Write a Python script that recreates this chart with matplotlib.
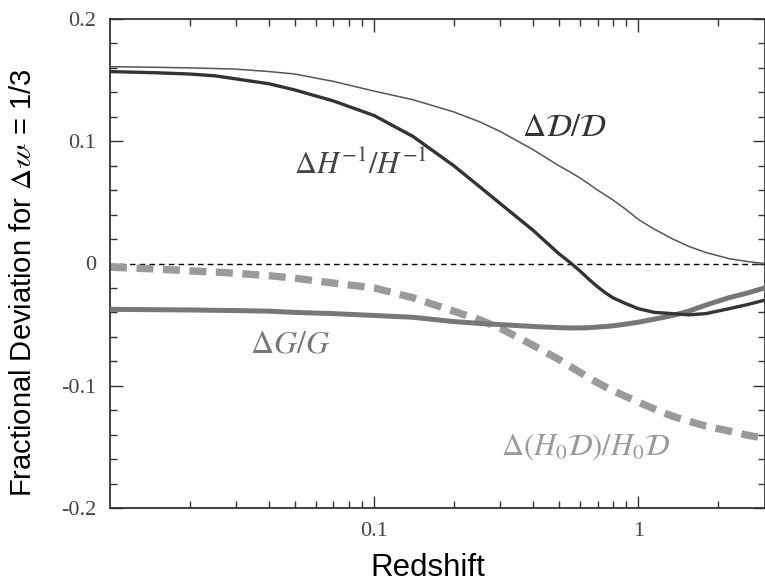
import matplotlib
matplotlib.use("Agg")
import matplotlib.pyplot as plt
from matplotlib.ticker import LogLocator, MultipleLocator, FixedLocator, FixedFormatter, NullFormatter

plt.rcParams["mathtext.fontset"] = "stix"

# Redshift sample points
redshift = [0.01, 0.015, 0.02, 0.025, 0.03, 0.04, 0.05, 0.07, 0.1, 0.14, 0.2, 0.25,
            0.3, 0.4, 0.5, 0.55, 0.6, 0.65, 0.7, 0.75, 0.8, 0.9, 1.0, 1.15, 1.35,
            1.55, 1.8, 2.2, 2.6, 3.0]

# Fractional deviations of each quantity
dD_over_D = [0.161, 0.1605, 0.160, 0.1595, 0.159, 0.157, 0.155, 0.149, 0.141, 0.134, 0.124, 0.116,
             0.108, 0.093, 0.080, 0.075, 0.070, 0.065, 0.060, 0.056, 0.052, 0.044, 0.036, 0.028, 0.020,
             0.014, 0.009, 0.004, 0.0015, 0.0]
dHinv_over_Hinv = [0.157, 0.156, 0.155, 0.1535, 0.151, 0.147, 0.142, 0.133, 0.121, 0.104, 0.080, 0.063,
                   0.049, 0.027, 0.008, 0.001, -0.006, -0.013, -0.019, -0.024, -0.028, -0.033, -0.037,
                   -0.040, -0.041, -0.042, -0.041, -0.037, -0.0335, -0.030]
dG_over_G = [-0.0375, -0.0378, -0.038, -0.0383, -0.0385, -0.039, -0.040, -0.041, -0.0425, -0.044,
             -0.0475, -0.049, -0.050, -0.0515, -0.0525, -0.0527, -0.0527, -0.0525, -0.052, -0.0515,
             -0.051, -0.0495, -0.048, -0.0455, -0.0425, -0.039, -0.034, -0.028, -0.024, -0.020]
dH0D_over_H0D = [-0.003, -0.0045, -0.006, -0.007, -0.008, -0.010, -0.012, -0.016, -0.020, -0.028,
                 -0.039, -0.046, -0.053, -0.067, -0.0785, -0.084, -0.089, -0.0935, -0.0975, -0.101,
                 -0.104, -0.109, -0.1135, -0.119, -0.125, -0.129, -0.133, -0.137, -0.1405, -0.143]

y_ticks = [-0.2, -0.1, 0.0, 0.1, 0.2]
y_tick_labels = ["-0.2", "-0.1", "0", "0.1", "0.2"]
x_ticks = [0.1, 1.0]
x_tick_labels = ["0.1", "1"]

W, H = 765, 586
fig = plt.figure(figsize=(W / 100, H / 100), dpi=100)
ax = fig.add_axes([110 / W, (H - 508) / H, (764.5 - 110) / W, (508 - 19) / H])

ax.axhline(0, color="black", lw=1.0, dashes=(4, 3), zorder=1)
ax.plot(redshift, dH0D_over_H0D, color="#9a9a9a", lw=5.3, dashes=(2.3, 1.3), solid_capstyle="butt", zorder=2)
ax.plot(redshift, dG_over_G, color="#777777", lw=3.6, zorder=3)
ax.plot(redshift, dD_over_D, color="#555555", lw=1.1, zorder=4)
ax.plot(redshift, dHinv_over_Hinv, color="#333333", lw=2.4, zorder=5)

ax.set_xscale("log")
ax.set_xlim(0.01, 3.0)
ax.set_ylim(-0.2, 0.2)

ax.xaxis.set_major_locator(FixedLocator(x_ticks))
ax.xaxis.set_major_formatter(FixedFormatter(x_tick_labels))
ax.xaxis.set_minor_locator(LogLocator(base=10, subs=range(2, 10)))
ax.xaxis.set_minor_formatter(NullFormatter())
ax.yaxis.set_major_locator(FixedLocator(y_ticks))
ax.yaxis.set_major_formatter(FixedFormatter(y_tick_labels))
ax.yaxis.set_minor_locator(MultipleLocator(0.02))

ax.tick_params(which="both", direction="in", top=True, right=True, color="#333333", width=1.0)
ax.tick_params(which="major", length=9, pad=10)
ax.tick_params(which="minor", length=5)
for lab in ax.get_xticklabels() + ax.get_yticklabels():
    lab.set_family("Liberation Serif")
    lab.set_fontsize(16)
    lab.set_color("#444444")
for s in ax.spines.values():
    s.set_color("#333333")
    s.set_linewidth(1.3)

ax.set_xlabel("Redshift", family="Liberation Sans", fontsize=22.5)
ax.xaxis.set_label_coords((428 - 110) / 654.5, -0.093)
ax.set_ylabel(r"Fractional Deviation for $\Delta\mathscr{w}$ = 1/3", family="Liberation Sans", fontsize=21)
ax.yaxis.set_label_coords((37 - 110) / 654.5, (508 - 283) / 489)

ax.text(0.362, 0.104, r"$\Delta\mathcal{D}/\mathcal{D}$", fontsize=23, color="#333333", ha="left", va="baseline")
ax.text(0.0499, 0.073, r"$\Delta H^{-1}/H^{-1}$", fontsize=22, color="#444444", ha="left", va="baseline")
ax.text(0.0338, -0.073, r"$\Delta G/G$", fontsize=23, color="#777777", ha="left", va="baseline")
ax.text(1.32, -0.1566, r"$\Delta(H_0\mathcal{D})/H_0\mathcal{D}$", fontsize=22, color="#999999", ha="right", va="baseline")

fig.savefig("out.png", dpi=100)
